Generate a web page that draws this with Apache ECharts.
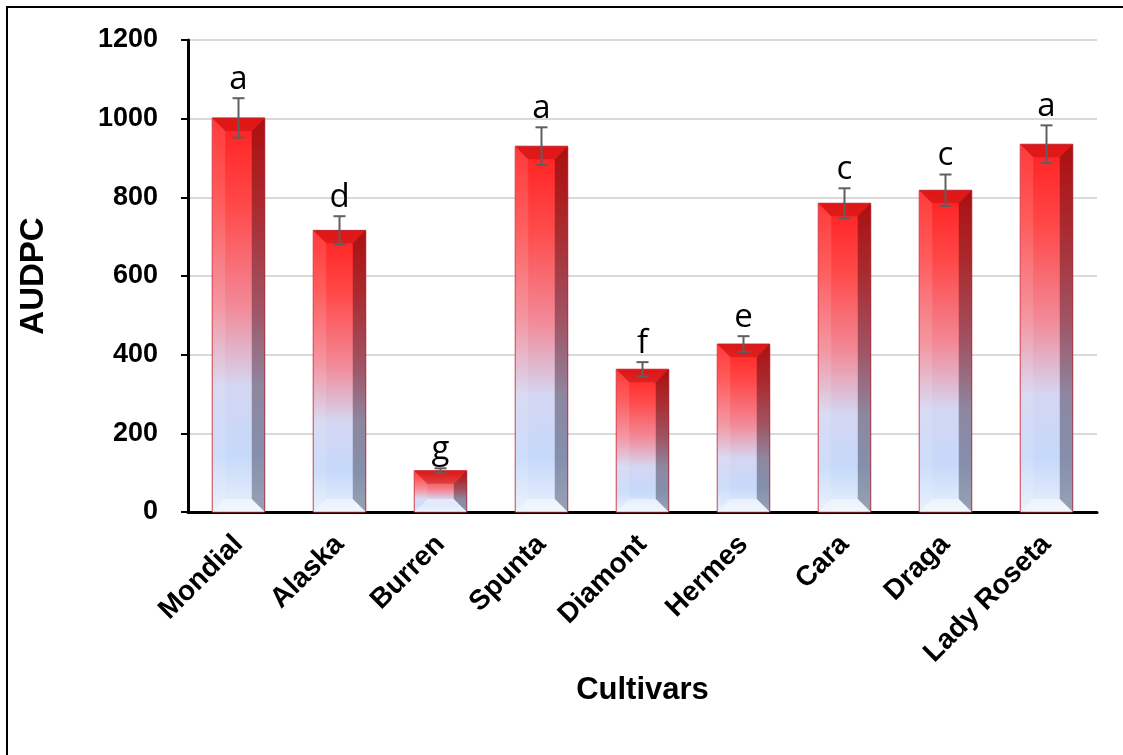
<!DOCTYPE html>
<html>
<head>
<meta charset="utf-8">
<script src="https://cdn.jsdelivr.net/npm/echarts@6/dist/echarts.min.js"></script>
<style>html,body{margin:0;padding:0;background:#fff}#c{width:1123px;height:755px}</style>
</head>
<body>
<div id="c"></div>
<script>
const categories = ['Mondial','Alaska','Burren','Spunta','Diamont','Hermes','Cara','Draga','Lady Roseta'];
const audpc = [1002, 716, 105, 930, 363, 427, 785, 818, 935];
const errors = [50, 36, 6, 48, 18, 20, 38, 40, 48];
const letters = ['a','d','g','a','f','e','c','c','a'];

const FONT = '"Liberation Sans", Arial, sans-serif';
const chart = echarts.init(document.getElementById('c'));

const barData = audpc.map((v,i)=>[i,v]);
const errData = audpc.map((v,i)=>[i,v,errors[i]]);

function renderBar(params, api){
  const i = api.value(0), v = api.value(1);
  const top = api.coord([i, v]);
  const base = api.coord([i, 0]);
  const w = api.size([1,0])[0]*0.52;
  const x0 = top[0]-w/2, x1 = top[0]+w/2, y0 = top[1], y1 = base[1];
  const b = Math.min(13, (y1-y0)/3, w/4);
  const L = echarts.graphic.LinearGradient;
  const face = new L(0,0,0,1,[
    {offset:0, color:'#ff1f1f'},
    {offset:0.22, color:'#ff4848'},
    {offset:0.48, color:'#f28a98'},
    {offset:0.68, color:'#d4d6f2'},
    {offset:0.85, color:'#c6d9fa'},
    {offset:1, color:'#e8f0fc'}
  ]);
  const rightG = new L(0,0,0,1,[
    {offset:0, color:'rgba(90,0,0,0.5)'},
    {offset:0.5, color:'rgba(60,20,40,0.45)'},
    {offset:1, color:'rgba(40,55,80,0.42)'}
  ]);
  return {
    type:'group',
    children:[
      {type:'rect', shape:{x:x0,y:y0,width:w,height:y1-y0}, style:{fill:face, stroke:'#d03040', lineWidth:1}},
      {type:'polygon', shape:{points:[[x0,y0],[x0+b,y0+b],[x0+b,y1-b],[x0,y1]]}, style:{fill:'rgba(255,255,255,0.12)'}},
      {type:'polygon', shape:{points:[[x1,y0],[x1,y1],[x1-b,y1-b],[x1-b,y0+b]]}, style:{fill:rightG}},
      {type:'polygon', shape:{points:[[x0,y0],[x1,y0],[x1-b,y0+b],[x0+b,y0+b]]}, style:{fill:'rgba(150,0,0,0.3)'}},
      {type:'polygon', shape:{points:[[x0,y1],[x1,y1],[x1-b,y1-b],[x0+b,y1-b]]}, style:{fill:'rgba(255,255,255,0.45)'}}
    ]
  };
}

function renderErr(params, api){
  const i = api.value(0), v = api.value(1), e = api.value(2);
  const letter = letters[params.dataIndex];
  const hi = api.coord([i, v+e]);
  const lo = api.coord([i, v-e]);
  const cap = 6;
  const st = {stroke:'#5f5f5f', lineWidth:2};
  return {
    type:'group',
    children:[
      {type:'line', shape:{x1:hi[0],y1:hi[1],x2:lo[0],y2:lo[1]}, style:st},
      {type:'line', shape:{x1:hi[0]-cap,y1:hi[1],x2:hi[0]+cap,y2:hi[1]}, style:st},
      {type:'line', shape:{x1:lo[0]-cap,y1:lo[1],x2:lo[0]+cap,y2:lo[1]}, style:st},
      {type:'text', x:hi[0], y:hi[1]-2, style:{text:letter, textAlign:'center', textVerticalAlign:'bottom', fill:'#000', font:'33px "Open Sans", "Noto Sans", sans-serif'}}
    ]
  };
}

chart.setOption({
  animation:false,
  backgroundColor:'#fff',
  graphic:[{type:'rect', shape:{x:7,y:7,width:1300,height:900}, style:{fill:'none', stroke:'#000', lineWidth:2}, z:-1}],
  grid:{left:188, top:40, right:26, bottom:243},
  xAxis:{
    type:'category', data:categories,
    name:'Cultivars', nameLocation:'middle', nameGap:146,
    nameTextStyle:{fontFamily:FONT, fontWeight:'bold', fontSize:31, color:'#000'},
    axisLine:{lineStyle:{color:'#000', width:3}},
    axisTick:{show:false},
    axisLabel:{rotate:45, fontFamily:FONT, fontWeight:'bold', fontSize:28, color:'#000', margin:28, interval:0}
  },
  yAxis:{
    type:'value', min:0, max:1200, interval:200,
    name:'AUDPC', nameLocation:'middle', nameGap:138,
    nameTextStyle:{fontFamily:FONT, fontWeight:'bold', fontSize:33, color:'#000'},
    axisLine:{show:true, lineStyle:{color:'#000', width:3}},
    axisTick:{show:true, length:7, lineStyle:{color:'#000', width:2}},
    axisLabel:{fontFamily:FONT, fontWeight:'bold', fontSize:27, color:'#000', margin:30, formatter:(v)=>String(v)},
    splitLine:{lineStyle:{color:'#d9d9d9', width:2}}
  },
  series:[
    {type:'custom', renderItem:renderBar, data:barData, encode:{x:0,y:1}, z:2},
    {type:'custom', renderItem:renderErr, data:errData, encode:{x:0,y:1}, z:3}
  ]
});
</script>
</body>
</html>
